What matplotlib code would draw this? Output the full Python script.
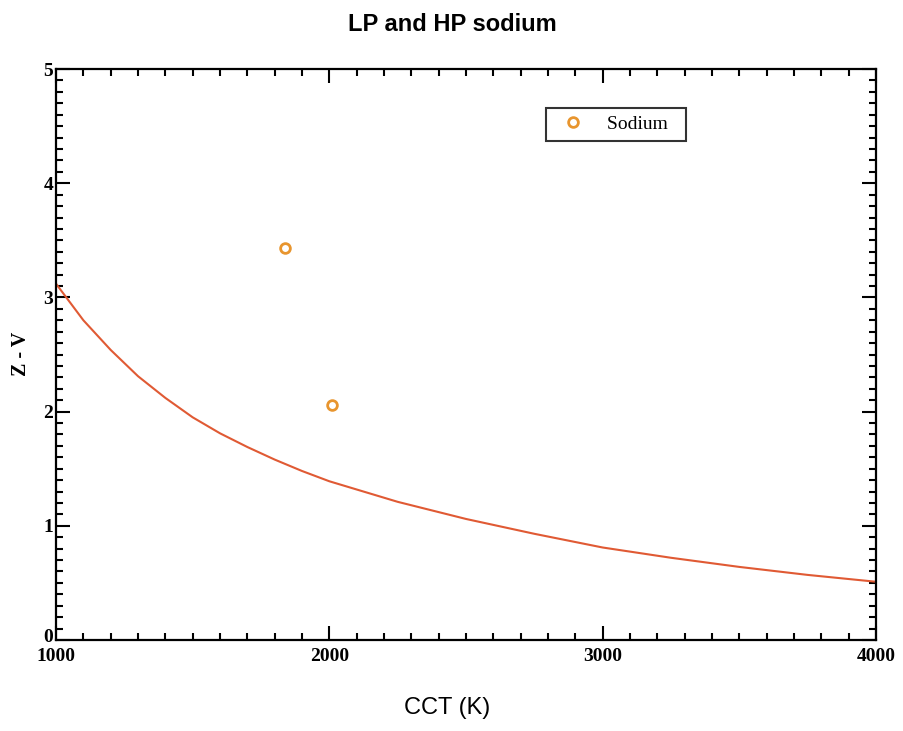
import matplotlib
matplotlib.use("Agg")
import matplotlib.pyplot as plt
from matplotlib.ticker import MultipleLocator

# Sodium lamp measurements
sodium_cct = [1838, 2010]
sodium_zv = [3.43, 2.06]

# Reference curve
curve_cct = [1000, 1100, 1200, 1300, 1400, 1500, 1600, 1700, 1800, 1900, 2000,
             2250, 2500, 2750, 3000, 3250, 3500, 3750, 4000]
curve_zv = [3.12, 2.80, 2.54, 2.31, 2.12, 1.95, 1.81, 1.69, 1.58, 1.48, 1.39,
            1.21, 1.06, 0.93, 0.81, 0.72, 0.64, 0.57, 0.51]

y_ticks = [0, 1, 2, 3, 4, 5]
y_ticklabels = ["0", "1", "2", "3", "4", "5"]

serif = ["Liberation Serif", "DejaVu Serif"]
sans = ["Liberation Sans", "DejaVu Sans"]

fig = plt.figure(figsize=(9.04, 7.31), dpi=100)
ax = fig.add_axes([0.062, 0.1245, 0.907, 0.781])

ax.plot(curve_cct, curve_zv, color="#E05A34", lw=1.5, zorder=2)
ax.plot(sodium_cct, sodium_zv, ls="none", marker="o", ms=7, mfc="none",
        mec="#E8952E", mew=2, label="Sodium  ", zorder=3)

ax.set_xlim(1000, 4000)
ax.set_ylim(0, 5)
ax.xaxis.set_major_locator(MultipleLocator(1000))
ax.xaxis.set_minor_locator(MultipleLocator(100))
# bottom "0" is drawn separately, nudged up so it clears "1000"
ax.set_yticks(y_ticks, [""] + y_ticklabels[1:])
ax.yaxis.set_minor_locator(MultipleLocator(0.1))
ax.tick_params(which="both", direction="in", top=True, right=True, width=1.5)
ax.tick_params(which="major", length=10)
ax.tick_params(which="minor", length=5)
ax.tick_params(axis="x", which="major", pad=6)
ax.tick_params(axis="y", which="major", pad=2)
for s in ax.spines.values():
    s.set_linewidth(1.6)
for lab in ax.get_xticklabels() + ax.get_yticklabels():
    lab.set_family(serif)
    lab.set_fontweight("bold")
    lab.set_fontsize(14)

ax.annotate(y_ticklabels[0], xy=(0, y_ticks[0]), xycoords=("axes fraction", "data"),
            xytext=(-2, 3), textcoords="offset points", ha="right",
            va="center_baseline", family=serif, fontweight="bold", fontsize=14)

leg = ax.legend(loc="upper right", bbox_to_anchor=(0.768, 0.932), frameon=True,
                fancybox=False, edgecolor="black", handletextpad=0.75,
                prop={"family": serif, "size": 14}, borderpad=0.4,
                borderaxespad=0)
leg.get_frame().set_linewidth(1.5)

fig.text(0.5, 0.966, "LP and HP sodium", ha="center", va="center",
         family=sans, fontweight="bold", fontsize=17)
fig.text(0.495, 0.031, "CCT (K)", ha="center", va="center", family=sans, fontsize=17)
fig.text(0.023, 0.516, "Z - V", ha="center", va="center", rotation=90,
         family=serif, fontweight="bold", fontsize=14.5)

fig.savefig("out.png", dpi=100)
